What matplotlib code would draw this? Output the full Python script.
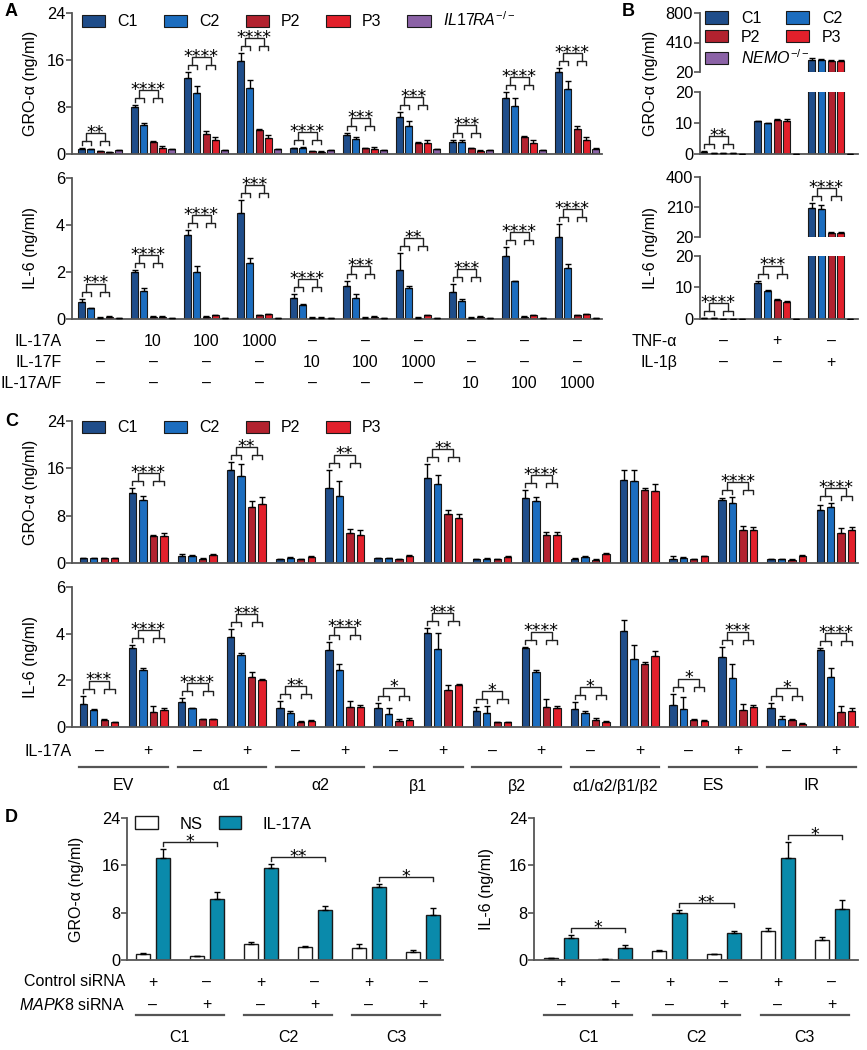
import numpy as np
import matplotlib
matplotlib.use("Agg")
import matplotlib.pyplot as plt
from matplotlib.patches import Patch
from matplotlib.transforms import blended_transform_factory as btf

plt.rcParams['font.family'] = ['Liberation Sans', 'DejaVu Sans']
plt.rcParams['mathtext.fontset'] = 'custom'
plt.rcParams['mathtext.rm'] = 'Liberation Sans'
plt.rcParams['mathtext.it'] = 'Liberation Sans:italic'
plt.rcParams['font.size'] = 11.5

# === data: panel A (GRO-a / IL-6, ng/ml) ===
a_gro_c1 = [0.9, 8.0, 13.0, 15.8, 1.0, 3.2, 6.3, 2.1, 9.6, 13.9]
a_gro_c2 = [0.8, 5.0, 10.3, 11.3, 1.1, 2.5, 4.8, 2.0, 8.1, 11.0]
a_gro_p2 = [0.5, 2.0, 3.4, 4.1, 0.5, 1.0, 1.9, 1.0, 2.9, 4.2]
a_gro_p3 = [0.3, 1.0, 2.4, 2.7, 0.4, 0.9, 1.8, 0.5, 1.9, 2.4]
a_gro_ko = [0.7, 0.8, 0.7, 0.8, 0.6, 0.7, 0.8, 0.6, 0.6, 0.9]
a_gro_c1_err = [0.1, 0.4, 0.9, 1.4, 0.1, 0.4, 0.9, 0.2, 1.0, 0.7]
a_gro_c2_err = [0.1, 0.2, 1.3, 1.3, 0.1, 0.4, 0.9, 0.4, 1.5, 1.4]
a_gro_p2_err = [0.05, 0.2, 0.5, 0.2, 0.05, 0.1, 0.2, 0.1, 0.2, 0.5]
a_gro_p3_err = [0.05, 0.4, 0.5, 0.5, 0.05, 0.3, 0.5, 0.1, 0.5, 0.5]
a_gro_ko_err = [0.05] * 10
a_gro_stars = ['**', '****', '****', '****', '****', '***', '***', '***', '****', '****']

a_il6_c1 = [0.72, 2.0, 3.57, 4.5, 0.9, 1.4, 2.1, 1.15, 2.7, 3.5]
a_il6_c2 = [0.45, 1.2, 2.0, 2.4, 0.6, 0.9, 1.3, 0.75, 1.6, 2.15]
a_il6_p2 = [0.05, 0.1, 0.1, 0.15, 0.05, 0.05, 0.05, 0.05, 0.1, 0.15]
a_il6_p3 = [0.1, 0.1, 0.15, 0.2, 0.05, 0.08, 0.15, 0.1, 0.15, 0.2]
a_il6_ko = [0.03] * 10
a_il6_c1_err = [0.15, 0.1, 0.2, 0.55, 0.15, 0.2, 0.7, 0.35, 0.35, 0.55]
a_il6_c2_err = [0.03, 0.1, 0.25, 0.2, 0.05, 0.15, 0.12, 0.1, 0.03, 0.2]
a_il6_p2_err = [0.03] * 10
a_il6_p3_err = [0.03] * 10
a_il6_stars = ['***', '****', '****', '***', '****', '***', '**', '***', '****', '****']

a_il17a = ['–', '10', '100', '1000', '–', '–', '–', '–', '–', '–']
a_il17f = ['–', '–', '–', '–', '10', '100', '1000', '–', '–', '–']
a_il17af = ['–', '–', '–', '–', '–', '–', '–', '10', '100', '1000']

# === data: panel B ===
b_gro_c1 = [0.8, 10.6, 180]
b_gro_c2 = [0.4, 9.9, 176]
b_gro_p2 = [0.4, 11.0, 170]
b_gro_p3 = [0.35, 10.6, 172]
b_gro_ko = [0.05, 0.1, 0.1]
b_gro_c1_err = [0.05, 0.2, 20]
b_gro_c2_err = [0.05, 0.1, 12]
b_gro_p2_err = [0.05, 0.2, 8]
b_gro_p3_err = [0.05, 0.7, 8]
b_gro_stars = ['**', None, None]

b_il6_c1 = [0.3, 11.5, 204]
b_il6_c2 = [0.2, 8.8, 200]
b_il6_p2 = [0.1, 6.1, 45]
b_il6_p3 = [0.1, 5.5, 45]
b_il6_ko = [0.0, 0.0, 0.0]
b_il6_c1_err = [0.05, 0.7, 30]
b_il6_c2_err = [0.05, 0.3, 20]
b_il6_p2_err = [0.03, 0.3, 5]
b_il6_p3_err = [0.03, 0.3, 4]
b_il6_stars = ['****', '***', '****']

b_tnf = ['–', '+', '–']
b_il1b = ['–', '–', '+']

# === data: panel C ===
c_gro_c1 = [0.85, 11.8, 1.2, 15.7, 0.6, 12.6, 0.8, 14.3, 0.6, 11.0, 0.6, 14.0, 0.7, 10.6, 0.6, 8.9]
c_gro_c2 = [0.85, 10.7, 1.2, 14.7, 0.9, 11.3, 0.8, 13.3, 0.7, 10.5, 1.0, 13.8, 0.9, 10.2, 0.6, 9.4]
c_gro_p2 = [0.8, 4.5, 0.7, 9.4, 0.6, 5.0, 0.6, 8.2, 0.6, 4.8, 0.5, 12.4, 0.6, 5.5, 0.5, 5.1]
c_gro_p3 = [0.85, 4.6, 1.4, 9.9, 1.0, 4.8, 1.2, 7.6, 1.0, 4.8, 1.5, 12.1, 1.1, 5.5, 1.2, 5.5]
c_gro_c1_err = [0.05, 0.85, 0.3, 1.3, 0.1, 3.2, 0.1, 2.4, 0.1, 1.3, 0.2, 1.8, 0.4, 0.4, 0.1, 0.85]
c_gro_c2_err = [0.05, 0.7, 0.1, 2.1, 0.1, 2.6, 0.1, 1.5, 0.1, 0.7, 0.2, 2.0, 0.1, 1.0, 0.1, 0.7]
c_gro_p2_err = [0.05, 0.2, 0.1, 1.1, 0.1, 0.7, 0.1, 0.7, 0.1, 0.4, 0.1, 0.35, 0.1, 0.7, 0.1, 0.8]
c_gro_p3_err = [0.05, 0.5, 0.1, 1.3, 0.1, 0.7, 0.1, 0.6, 0.1, 0.5, 0.2, 1.2, 0.1, 0.6, 0.1, 0.6]
c_gro_stars = [None, '****', None, '**', None, '**', None, '**',
               None, '****', None, None, None, '****', None, '****']

c_il6_c1 = [1.0, 3.4, 1.08, 3.86, 0.8, 3.3, 0.8, 4.04, 0.7, 3.4, 0.78, 4.13, 0.93, 3.0, 0.83, 3.3]
c_il6_c2 = [0.75, 2.45, 0.8, 3.08, 0.58, 2.45, 0.57, 3.35, 0.6, 2.35, 0.6, 2.9, 0.78, 2.1, 0.36, 2.15]
c_il6_p2 = [0.3, 0.65, 0.33, 2.14, 0.22, 0.85, 0.26, 1.6, 0.2, 0.85, 0.3, 2.7, 0.3, 0.75, 0.3, 0.65]
c_il6_p3 = [0.2, 0.75, 0.33, 2.03, 0.27, 0.85, 0.32, 1.8, 0.2, 0.8, 0.22, 3.05, 0.24, 0.85, 0.15, 0.7]
c_il6_c1_err = [0.35, 0.1, 0.15, 0.35, 0.3, 0.35, 0.25, 0.2, 0.15, 0.05, 0.3, 0.45, 0.5, 0.45, 0.2, 0.1]
c_il6_c2_err = [0.03, 0.1, 0.03, 0.1, 0.1, 0.25, 0.25, 0.7, 0.3, 0.1, 0.1, 0.6, 0.5, 0.6, 0.1, 0.4]
c_il6_p2_err = [0.05, 0.25, 0.03, 0.2, 0.05, 0.25, 0.1, 0.2, 0.03, 0.35, 0.1, 0.1, 0.05, 0.25, 0.05, 0.25]
c_il6_p3_err = [0.03, 0.05, 0.03, 0.03, 0.03, 0.1, 0.05, 0.05, 0.03, 0.1, 0.03, 0.2, 0.05, 0.1, 0.03, 0.1]
c_il6_stars = ['***', '****', '****', '***', '**', '****', '*', '***',
               '*', '****', '*', None, '*', '***', '*', '****']

c_il17a = ['–', '+'] * 8
c_constructs = ['EV', 'α1', 'α2', 'β1', 'β2', 'α1/α2/β1/β2', 'ES', 'IR']

# === data: panel D ===
d_gro_ns = [1.0, 0.7, 2.7, 2.2, 2.0, 1.3]
d_gro_ns_err = [0.1, 0.05, 0.4, 0.25, 0.7, 0.4]
d_gro_il = [17.3, 10.3, 15.5, 8.4, 12.4, 7.6]
d_gro_il_err = [1.5, 1.2, 0.7, 0.7, 0.4, 1.2]
d_il6_ns = [0.3, 0.2, 1.5, 1.0, 4.9, 3.3]
d_il6_ns_err = [0.1, 0.05, 0.2, 0.05, 0.5, 0.6]
d_il6_il = [3.8, 2.1, 8.0, 4.5, 17.3, 8.6]
d_il6_il_err = [0.4, 0.4, 0.5, 0.4, 2.6, 1.6]
d_gro_stars = ['*', '**', '*']
d_il6_stars = ['*', '**', '*']
d_ctrl = ['+', '–', '+', '–', '+', '–']
d_mapk8 = ['–', '+', '–', '+', '–', '+']
d_donors = ['C1', 'C2', 'C3']

# === style ===
COL = {'C1': '#1f4d8a', 'C2': '#1c6dbf', 'P2': '#b2222f', 'P3': '#e2202b',
       'KO': '#8b62a6', 'NS': 'white', 'IL': '#0a8aab'}
EDGE = '#1a1a1a'
AX = '#555555'
W, H = 867, 1050

fig = plt.figure(figsize=(W / 100, H / 100), dpi=100)


def px_axes(l, t, r, b):
    return fig.add_axes([l / W, 1 - b / H, (r - l) / W, (b - t) / H])


def style(ax, ylim, yticks, bottom=True):
    ax.set_ylim(*ylim)
    ax.set_yticks(yticks)
    for s in ['top', 'right']:
        ax.spines[s].set_visible(False)
    for s in ['left', 'bottom']:
        ax.spines[s].set_color(AX)
        ax.spines[s].set_linewidth(1.3)
    if not bottom:
        ax.spines['bottom'].set_visible(False)
    ax.tick_params(axis='y', direction='out', length=4, width=1.2, color=AX,
                   labelsize=11.8, pad=1)
    ax.tick_params(axis='x', length=0, labelbottom=False)
    ax.patch.set_alpha(0)


def ppx(ax):
    y0, y1 = ax.get_ylim()
    return (y1 - y0) / (ax.get_position().height * H)


def bars(ax, xs, vals, errs, color, width, lw=0.8, base=0):
    # only bars that reach above the axis floor (matters for the broken axes in B)
    xs, vals, errs = np.asarray(xs), np.asarray(vals, float), np.asarray(errs, float)
    keep = vals > base
    if base == 0:
        keep = np.ones(len(vals), bool)
    xs, vals, errs = xs[keep], vals[keep], errs[keep]
    if len(xs) == 0:
        return
    ax.bar(xs, vals - base, width, bottom=base, color=color, edgecolor=EDGE,
           linewidth=lw, zorder=2)
    ax.errorbar(xs, vals, yerr=[np.zeros(len(vals)), errs], fmt='none', ecolor='k',
                elinewidth=1, capsize=2, capthick=1, zorder=3)


def star_text(ax, x, y, s):
    ax.annotate(s, xy=(x, y), xytext=(0, -3.5), textcoords='offset points',
                ha='center', va='baseline', fontsize=12.5, family='DejaVu Sans',
                annotation_clip=False)


def sig4(ax, xs4, top, s):
    p = ppx(ax)
    kw = dict(color='#222222', lw=1, clip_on=False, zorder=4)
    t = top + 7 * p
    for a, b in ((xs4[0], xs4[1]), (xs4[2], xs4[3])):
        ax.plot([a, a, b, b], [t - 4 * p, t, t, t - 4 * p], **kw)
    m1 = (xs4[0] + xs4[1]) / 2
    m2 = (xs4[2] + xs4[3]) / 2
    ax.plot([m1, m1, m2, m2], [t, t + 8 * p, t + 8 * p, t], **kw)
    star_text(ax, (m1 + m2) / 2, t + 8 * p, s)


def sig2(ax, xa, xb, top, s):
    p = ppx(ax)
    t = top + 7 * p
    ax.plot([xa, xa, xb, xb], [t - 4 * p, t, t, t - 4 * p], color='#222222', lw=1,
            clip_on=False, zorder=4)
    star_text(ax, (xa + xb) / 2, t, s)


def row_text(ax, xs, labels, ypx, **kw):
    tr = btf(ax.transData, fig.transFigure)
    for x, s in zip(xs, labels):
        ax.text(x, 1 - ypx / H, s, transform=tr, ha='center', va='center',
                fontsize=11.5, clip_on=False, **kw)


def left_text(xpx, ypx, s, **kw):
    fig.text(xpx / W, 1 - ypx / H, s, ha='right', va='center', fontsize=11.5, **kw)


def ylab(xpx, ypx, s):
    fig.text(xpx / W, 1 - ypx / H, s, rotation=90, ha='center', va='center',
             fontsize=11.5)


def group_lines(ax, centers, labels, yline, ylabel, half):
    tr = btf(ax.transData, fig.transFigure)
    for c, s in zip(centers, labels):
        ax.plot([c - half, c + half], [1 - yline / H] * 2, transform=tr,
                color=AX, lw=1.6, clip_on=False)
        ax.text(c, 1 - ylabel / H, s, transform=tr, ha='center', va='center',
                fontsize=11.5, clip_on=False)


def panel_bars(ax, series, errs, colors, offs, width, stars):
    n = len(series[0])
    g = np.arange(n)
    for vals, e, c, o in zip(series, errs, colors, offs):
        bars(ax, g + o, vals, e, c, width)
    for i in range(n):
        if not stars[i]:
            continue
        top = max(series[k][i] + errs[k][i] for k in range(4))
        sig4(ax, [i + offs[k] for k in range(4)], top, stars[i])


# === Panel A ===
a_offs = np.array([-2, -1, 0, 1, 2]) * 0.175
a_cols = [COL['C1'], COL['C2'], COL['P2'], COL['P3'], COL['KO']]
axA1 = px_axes(72, 13, 602, 154)
axA2 = px_axes(72, 178, 602, 319)
for ax in (axA1, axA2):
    ax.set_xlim(-0.53, 9.47)
style(axA1, (0, 24), [0, 8, 16, 24])
style(axA2, (0, 6), [0, 2, 4, 6])
panel_bars(axA1, [a_gro_c1, a_gro_c2, a_gro_p2, a_gro_p3, a_gro_ko],
           [a_gro_c1_err, a_gro_c2_err, a_gro_p2_err, a_gro_p3_err, a_gro_ko_err],
           a_cols, a_offs, 0.13, a_gro_stars)
panel_bars(axA2, [a_il6_c1, a_il6_c2, a_il6_p2, a_il6_p3, a_il6_ko],
           [a_il6_c1_err, a_il6_c2_err, a_il6_p2_err, a_il6_p3_err, a_il6_ko],
           a_cols, a_offs, 0.13, a_il6_stars)
ga = np.arange(10)
row_text(axA2, ga, a_il17a, 341)
row_text(axA2, ga, a_il17f, 362)
row_text(axA2, ga, a_il17af, 383)
left_text(62, 341, 'IL-17A')
left_text(62, 362, 'IL-17F')
left_text(62, 383, 'IL-17A/F')
ylab(31, 83, 'GRO-α (ng/ml)')
ylab(31, 248, 'IL-6 (ng/ml)')

a_handles = [Patch(facecolor=c, edgecolor=EDGE, lw=0.8) for c in a_cols]
a_labels = ['C1', 'C2', 'P2', 'P3', r'$\mathit{IL17RA}^{-/-}$']
fig.legend(a_handles, a_labels, loc='center left', bbox_to_anchor=(82 / W, 1 - 20 / H),
           ncol=5, frameon=False, borderpad=0, borderaxespad=0, handlelength=1.45,
           handleheight=0.8, handletextpad=0.75, columnspacing=1.65, fontsize=11.5)

# === Panel B (broken y axes) ===
b_offs = np.array([-2, -1, 0, 1, 2]) * 0.178
axB1u = px_axes(700, 13, 858, 72)
axB1l = px_axes(700, 92, 858, 154)
axB2u = px_axes(700, 177, 858, 237)
axB2l = px_axes(700, 256, 858, 319)
for ax in (axB1u, axB1l, axB2u, axB2l):
    ax.set_xlim(-0.43, 2.5)
style(axB1u, (20, 800), [20, 410, 800], bottom=False)
style(axB1l, (0, 20), [0, 10, 20])
style(axB2u, (20, 400), [20, 210, 400], bottom=False)
style(axB2l, (0, 20), [0, 10, 20])
gb = np.arange(3)
b_gro = [b_gro_c1, b_gro_c2, b_gro_p2, b_gro_p3, b_gro_ko]
b_gro_e = [b_gro_c1_err, b_gro_c2_err, b_gro_p2_err, b_gro_p3_err, [0.0] * 3]
b_il6 = [b_il6_c1, b_il6_c2, b_il6_p2, b_il6_p3, b_il6_ko]
b_il6_e = [b_il6_c1_err, b_il6_c2_err, b_il6_p2_err, b_il6_p3_err, [0.0] * 3]
for axu, axl, ser, ers, stars in ((axB1u, axB1l, b_gro, b_gro_e, b_gro_stars),
                                 (axB2u, axB2l, b_il6, b_il6_e, b_il6_stars)):
    for vals, e, c, o in zip(ser, ers, a_cols, b_offs):
        bars(axl, gb + o, vals, e, c, 0.13)
        bars(axu, gb + o, vals, e, c, 0.13, base=20)
    for i in range(3):
        if not stars[i]:
            continue
        top = max(ser[k][i] + ers[k][i] for k in range(4))
        ax = axu if top > 20 else axl
        sig4(ax, [i + b_offs[k] for k in range(4)], top, stars[i])
row_text(axB2l, gb, b_tnf, 341)
row_text(axB2l, gb, b_il1b, 362)
left_text(677, 341, 'TNF-α')
left_text(677, 362, 'IL-1β')
ylab(651, 83, 'GRO-α (ng/ml)')
ylab(651, 248, 'IL-6 (ng/ml)')

b_h = [Patch(facecolor=c, edgecolor=EDGE, lw=0.8) for c in a_cols]
leg_kw = dict(loc='upper left', frameon=False, borderpad=0, borderaxespad=0,
              handlelength=1.45, handleheight=0.8, handletextpad=0.8,
              labelspacing=0.22, fontsize=11.5)
fig.legend([b_h[0], b_h[2], b_h[4]], ['C1', 'P2', r'$\mathit{NEMO}^{-/-}$'],
           bbox_to_anchor=(705 / W, 1 - 11 / H), **leg_kw)
fig.legend([b_h[1], b_h[3]], ['C2', 'P3'],
           bbox_to_anchor=(786 / W, 1 - 11 / H), **leg_kw)

# === Panel C ===
c_offs = np.array([-1.5, -0.5, 0.5, 1.5]) * 0.213
c_cols = a_cols[:4]
axC1 = px_axes(72, 421, 858, 563)
axC2 = px_axes(72, 587, 858, 727)
for ax in (axC1, axC2):
    ax.set_xlim(-0.55, 15.45)
style(axC1, (0, 24), [0, 8, 16, 24])
style(axC2, (0, 6), [0, 2, 4, 6])
panel_bars(axC1, [c_gro_c1, c_gro_c2, c_gro_p2, c_gro_p3],
           [c_gro_c1_err, c_gro_c2_err, c_gro_p2_err, c_gro_p3_err],
           c_cols, c_offs, 0.15, c_gro_stars)
panel_bars(axC2, [c_il6_c1, c_il6_c2, c_il6_p2, c_il6_p3],
           [c_il6_c1_err, c_il6_c2_err, c_il6_p2_err, c_il6_p3_err],
           c_cols, c_offs, 0.15, c_il6_stars)
gc = np.arange(16)
row_text(axC2, gc, c_il17a, 751)
left_text(72, 751, 'IL-17A')
group_lines(axC2, gc[::2] + 0.5, c_constructs, 767, 786, 0.9)
ylab(31, 492, 'GRO-α (ng/ml)')
ylab(31, 657, 'IL-6 (ng/ml)')
fig.legend(a_handles[:4], ['C1', 'C2', 'P2', 'P3'], loc='center left',
           bbox_to_anchor=(82 / W, 1 - 428 / H), ncol=4, frameon=False, borderpad=0,
           borderaxespad=0, handlelength=1.45, handleheight=0.8, handletextpad=0.75,
           columnspacing=1.65, fontsize=11.5)

# === Panel D ===
d_off = 0.185
gd = np.arange(6)
axD1 = px_axes(127, 818, 443, 960)
axD2 = px_axes(534, 818, 858, 960)
axD1.set_xlim(-0.48, 5.37)
axD2.set_xlim(-0.5, 5.48)
for ax, ns, nse, il, ile, stars in ((axD1, d_gro_ns, d_gro_ns_err, d_gro_il, d_gro_il_err, d_gro_stars),
                                    (axD2, d_il6_ns, d_il6_ns_err, d_il6_il, d_il6_il_err, d_il6_stars)):
    style(ax, (0, 24), [0, 8, 16, 24])
    bars(ax, gd - d_off, ns, nse, COL['NS'], 0.26, lw=1)
    bars(ax, gd + d_off, il, ile, COL['IL'], 0.26, lw=1)
    for j in range(3):
        top = il[2 * j] + ile[2 * j]
        sig2(ax, 2 * j + d_off, 2 * j + 1 + d_off, top, stars[j])
    row_text(ax, gd, d_ctrl, 982)
    row_text(ax, gd, d_mapk8, 1005)
    group_lines(ax, gd[::2] + 0.5, d_donors, 1015, 1038, 0.81)
left_text(125, 982, 'Control siRNA')
left_text(125, 1005, r'$\mathit{MAPK8}$ siRNA')
ylab(77, 889, 'GRO-α (ng/ml)')
ylab(487, 889, 'IL-6 (ng/ml)')
fig.legend([Patch(facecolor=COL['NS'], edgecolor=EDGE, lw=1),
            Patch(facecolor=COL['IL'], edgecolor=EDGE, lw=1)], ['NS', 'IL-17A'],
           loc='center left', bbox_to_anchor=(135 / W, 1 - 824 / H), ncol=2,
           frameon=False, borderpad=0, borderaxespad=0, handlelength=1.35,
           handleheight=0.8, handletextpad=1.3, columnspacing=1.0, fontsize=12)

# panel letters
for s, x, y in (('A', 5, 12), ('B', 622, 12), ('C', 5, 421), ('D', 5, 818)):
    fig.text(x / W, 1 - y / H, s, weight='bold', fontsize=13, ha='left', va='center')

fig.savefig('out.png', dpi=100)
